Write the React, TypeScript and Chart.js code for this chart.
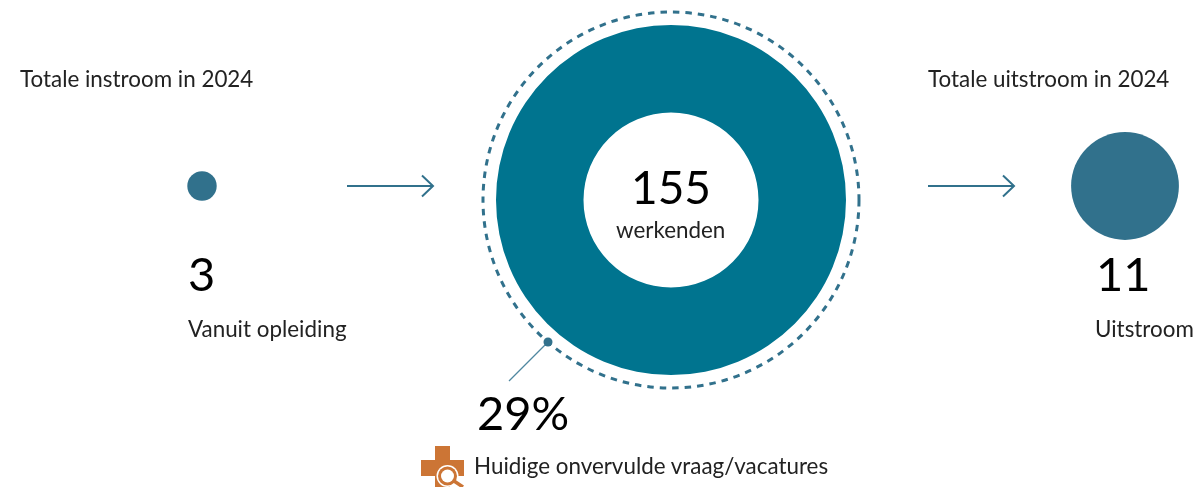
import React, { useEffect, useRef } from "react";
import { Chart, registerables } from "chart.js";

Chart.register(...registerables);

const W = 1195;
const H = 487;
const FONT = "Lato, sans-serif";
const BUBBLE = "#31718c";
const RING = "#00748f";
const ORANGE = "#cc7535";

const inflowValues = [3];
const outflowValues = [11];
const workforceValues = [155];
const inflowPos = [{ x: 202, y: 186 }];
const outflowPos = [{ x: 1125, y: 186 }];
const unfilledShare = 29;

const labels = [
  { t: "Totale instroom in 2024", x: 20, b: 88, s: 22.4, c: "#222" },
  { t: "Totale uitstroom in 2024", x: 928, b: 88, s: 22.4, c: "#222" },
  { t: String(inflowValues[0]), x: 188, b: 292, s: 47, c: "#000" },
  { t: "Vanuit opleiding", x: 188, b: 338, s: 22.4, c: "#222" },
  { t: String(outflowValues[0]), x: 1096, b: 292, s: 47, c: "#000" },
  { t: "Uitstroom", x: 1095, b: 338, s: 22.4, c: "#222" },
  { t: String(workforceValues[0]), x: 631, b: 205, s: 46, c: "#000" },
  { t: "werkenden", x: 616, b: 239, s: 22.4, c: "#222" },
  { t: unfilledShare + "%", x: 477, b: 431, s: 47, c: "#000" },
  { t: "Huidige onvervulde vraag/vacatures", x: 474, b: 475, s: 22.4, c: "#222" },
];

const decor = {
  id: "decor",
  afterDatasetsDraw(chart: any) {
    const c = chart.ctx;
    c.save();
    c.strokeStyle = BUBBLE;
    c.fillStyle = BUBBLE;
    c.lineCap = "butt";
    // arrows
    c.lineWidth = 2;
    for (const [a, b] of [[347, 433], [928, 1014]]) {
      c.beginPath();
      c.moveTo(a, 186);
      c.lineTo(b, 186);
      c.moveTo(b - 11, 175.5);
      c.lineTo(b, 186);
      c.lineTo(b - 11, 196.5);
      c.stroke();
    }
    // dashed ring
    c.lineWidth = 3;
    c.setLineDash([6.5, 6]);
    c.beginPath();
    c.arc(671, 200, 188, 0, Math.PI * 2);
    c.stroke();
    c.setLineDash([]);
    // leader
    c.lineWidth = 1.3;
    c.strokeStyle = "#4f87a0";
    c.beginPath();
    c.moveTo(548, 342);
    c.lineTo(509, 381);
    c.stroke();
    c.beginPath();
    c.arc(548, 342, 4.5, 0, Math.PI * 2);
    c.fill();
    // icon
    c.fillStyle = ORANGE;
    c.fillRect(421, 460, 43, 16);
    c.fillRect(435, 446, 15, 41);
    c.fillStyle = "#ffffff";
    c.beginPath();
    c.arc(447.5, 476, 11, 0, Math.PI * 2);
    c.fill();
    c.fillStyle = ORANGE;
    c.beginPath();
    c.arc(447.5, 476, 9.5, 0, Math.PI * 2);
    c.fill();
    c.fillStyle = "#ffffff";
    c.beginPath();
    c.arc(447.5, 476, 6.5, 0, Math.PI * 2);
    c.fill();
    c.strokeStyle = ORANGE;
    c.lineWidth = 3.5;
    c.beginPath();
    c.moveTo(454, 481);
    c.lineTo(463, 487);
    c.stroke();
    c.restore();
  },
};

export default function App() {
  const a = useRef<HTMLCanvasElement>(null);
  const b = useRef<HTMLCanvasElement>(null);
  useEffect(() => {
    document.body.style.margin = "0";
    const bubble = new Chart(a.current!, {
      type: "bubble",
      data: {
        datasets: [
          {
            label: "Instroom",
            data: inflowPos.map((p, i) => ({ ...p, r: inflowValues[i] * 4.9 })),
            backgroundColor: BUBBLE,
            borderWidth: 0,
            hoverBorderWidth: 0,
          },
          {
            label: "Uitstroom",
            data: outflowPos.map((p, i) => ({ ...p, r: outflowValues[i] * 4.9 })),
            backgroundColor: BUBBLE,
            borderWidth: 0,
            hoverBorderWidth: 0,
          },
        ],
      } as any,
      options: {
        animation: false,
        responsive: false,
        layout: { padding: 0, autoPadding: false },
        scales: {
          x: { type: "linear", min: 0, max: W, display: false },
          y: { type: "linear", min: 0, max: H, display: false, reverse: true },
        },
        plugins: { legend: { display: false }, tooltip: { enabled: false } },
      } as any,
      plugins: [decor],
    });
    const donut = new Chart(b.current!, {
      type: "doughnut",
      data: {
        labels: ["werkenden"],
        datasets: [{ data: workforceValues, backgroundColor: RING, borderWidth: 0 }],
      },
      options: {
        animation: false,
        responsive: false,
        cutout: "50%",
        layout: { padding: 0 },
        plugins: { legend: { display: false }, tooltip: { enabled: false } },
      } as any,
    });
    return () => {
      bubble.destroy();
      donut.destroy();
    };
  }, []);
  return (
    <div style={{ position: "relative", width: W, height: H, overflow: "hidden", background: "#fff" }}>
      <canvas ref={a} width={W} height={H} style={{ position: "absolute", left: 0, top: 0 }} />
      <canvas ref={b} width={350} height={350} style={{ position: "absolute", left: 496, top: 25 }} />
      {labels.map((l) => (
        <div
          key={l.t}
          style={{
            position: "absolute",
            left: l.x,
            top: l.b - l.s * 0.887,
            fontFamily: FONT,
            fontSize: l.s,
            lineHeight: 1,
            color: l.c,
            whiteSpace: "nowrap",
          }}
        >
          {l.t}
        </div>
      ))}
    </div>
  );
}
